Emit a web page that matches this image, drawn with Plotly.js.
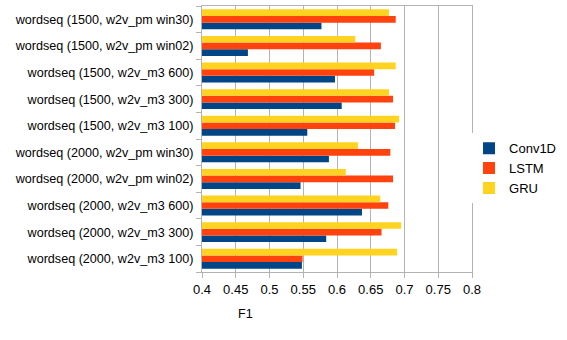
<!DOCTYPE html>
<html>
<head>
<meta charset="utf-8">
<script src="https://cdn.plot.ly/plotly-3.0.1.min.js"></script>
<style>
  body { margin: 0; background: #fff; }
  #plot { width: 567px; height: 340px; }
</style>
</head>
<body>
<div id="plot"></div>
<script>
// categories listed bottom to top (plotly draws the first one at the bottom)
const categories = [
    'wordseq (2000, w2v_m3 100)',
    'wordseq (2000, w2v_m3 300)',
    'wordseq (2000, w2v_m3 600)',
    'wordseq (2000, w2v_pm win02)',
    'wordseq (2000, w2v_pm win30)',
    'wordseq (1500, w2v_m3 100)',
    'wordseq (1500, w2v_m3 300)',
    'wordseq (1500, w2v_m3 600)',
    'wordseq (1500, w2v_pm win02)',
    'wordseq (1500, w2v_pm win30)'
];

const conv1d = [0.548, 0.584, 0.637, 0.546, 0.588, 0.556, 0.607, 0.597, 0.468, 0.577];
const lstm   = [0.549, 0.666, 0.676, 0.683, 0.679, 0.686, 0.683, 0.655, 0.665, 0.687];
const gru    = [0.689, 0.695, 0.664, 0.613, 0.631, 0.692, 0.677, 0.687, 0.627, 0.677];

const xTicks = [0.4, 0.45, 0.5, 0.55, 0.6, 0.65, 0.7, 0.75, 0.8];

function initPlot() {
    const mk = (name, vals, color) => ({
        type: 'bar',
        orientation: 'h',
        name: name,
        y: categories,
        x: vals,
        base: 0,
        marker: { color: color, line: { width: 0 } }
    });

    const traces = [
        mk('Conv1D', conv1d, '#004586'),
        mk('LSTM', lstm, '#ff420e'),
        mk('GRU', gru, '#ffd320')
    ];

    const layout = {
        width: 567,
        height: 340,
        margin: { l: 202, r: 95, t: 6, b: 68, autoexpand: false },
        paper_bgcolor: '#ffffff',
        plot_bgcolor: '#ffffff',
        font: { family: 'Liberation Sans, Arial, sans-serif', size: 12, color: '#000' },
        barmode: 'group',
        bargap: 0.25,
        bargroupgap: 0,
        xaxis: {
            range: [0.4, 0.8],
            tickvals: xTicks,
            ticktext: xTicks.map(String),
            showgrid: true,
            gridcolor: '#b3b3b3',
            gridwidth: 1,
            zeroline: false,
            showline: true,
            linecolor: '#b3b3b3',
            mirror: true,
            ticks: 'outside',
            ticklen: 5,
            tickcolor: '#b3b3b3',
            tickfont: { size: 13 },
            automargin: false
        },
        yaxis: {
            type: 'category',
            showgrid: false,
            zeroline: false,
            showline: true,
            linecolor: '#b3b3b3',
            mirror: true,
            ticks: 'outside',
            tickson: 'boundaries',
            ticklen: 5,
            tickcolor: '#b3b3b3',
            tickfont: { size: 12.6 },
            ticklabelstandoff: 5,
            automargin: false
        },
        legend: {
            x: 0.989,
            xref: 'paper',
            xanchor: 'left',
            y: 0.39,
            yanchor: 'middle',
            font: { size: 13 },
            itemwidth: 30,
            tracegroupgap: 0
        },
        annotations: [{
            text: 'F1',
            xref: 'paper',
            yref: 'paper',
            x: 0.16,
            y: -0.158,
            xanchor: 'center',
            yanchor: 'middle',
            showarrow: false,
            font: { size: 12.5 }
        }],
        showlegend: true
    };

    Plotly.newPlot('plot', traces, layout, { displayModeBar: false, staticPlot: true });
}

document.addEventListener('DOMContentLoaded', initPlot);
</script>
</body>
</html>
